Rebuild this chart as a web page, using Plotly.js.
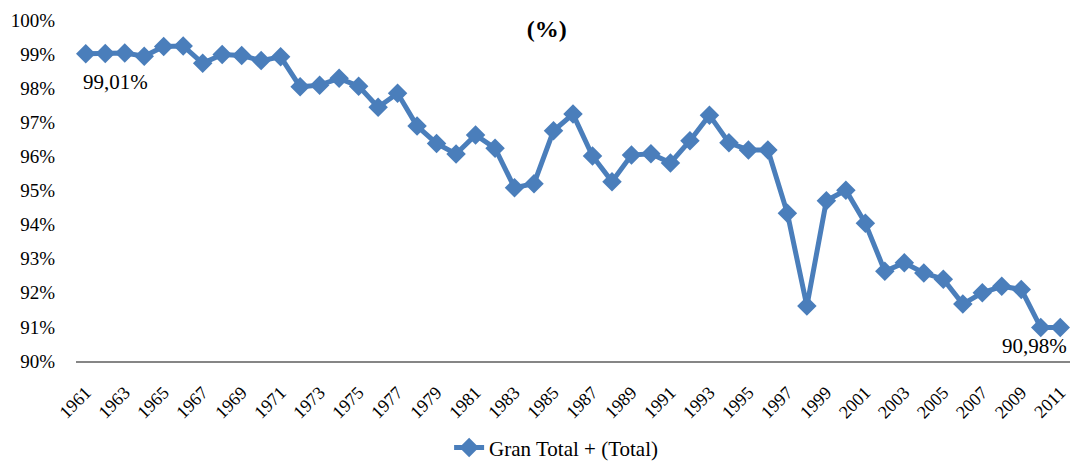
<!DOCTYPE html>
<html>
<head>
<meta charset="utf-8">
<script src="https://cdn.plot.ly/plotly-3.0.1.min.js"></script>
<style>html,body{margin:0;padding:0;background:#fff;}#chart{width:1070px;height:463px;}</style>
</head>
<body>
<div id="chart"></div>
<script>
const years = [1961,1962,1963,1964,1965,1966,1967,1968,1969,1970,
  1971,1972,1973,1974,1975,1976,1977,1978,1979,1980,
  1981,1982,1983,1984,1985,1986,1987,1988,1989,1990,
  1991,1992,1993,1994,1995,1996,1997,1998,1999,2000,
  2001,2002,2003,2004,2005,2006,2007,2008,2009,2010,2011];
const values = [99.01,99.02,99.03,98.94,99.22,99.24,98.73,98.99,98.96,98.81,
  98.92,98.04,98.09,98.29,98.06,97.44,97.85,96.89,96.38,96.07,
  96.63,96.24,95.08,95.20,96.75,97.24,96.01,95.26,96.04,96.08,
  95.81,96.46,97.21,96.40,96.19,96.19,94.33,91.61,94.70,95.01,
  94.04,92.63,92.88,92.58,92.40,91.67,92.00,92.19,92.10,90.98,90.98];
const seriesName = 'Gran Total + (Total)';
const chartTitle = '(%)';

const fmt = v => v.toFixed(2).replace('.', ',') + '%';
const font = '"Liberation Serif", "Times New Roman", Times, serif';
const blue = '#4a7ebb';

const trace = {
  x: years, y: values, type: 'scatter', mode: 'lines+markers',
  name: seriesName,
  line: {color: blue, width: 5},
  marker: {symbol: 'diamond', size: 15, color: blue},
  hoverinfo: 'x+y'
};

const first = 0, last = values.length - 1;
const layout = {
  width: 1070, height: 463,
  margin: {l: 76, r: 0, t: 20, b: 102, autoexpand: false},
  paper_bgcolor: '#fff', plot_bgcolor: '#fff',
  font: {family: font, size: 18, color: '#000'},
  title: {text: '<b>' + chartTitle + '</b>', x: 0.511, xanchor: 'center', y: 0.938, yanchor: 'middle',
    font: {family: font, size: 24, color: '#000'}},
  xaxis: {range: [1960.5, 2011.5], tick0: 1961, dtick: 2, tickangle: -45, automargin: false,
    showgrid: false, zeroline: false, showline: true, linecolor: '#868686', linewidth: 2,
    ticks: '', ticklabelstandoff: 12, tickfont: {family: font, size: 18, color: '#000'}, fixedrange: true},
  yaxis: {range: [90, 100], dtick: 1, ticksuffix: '%', showgrid: false, zeroline: false, automargin: false,
    showline: false, ticks: '', ticklabelstandoff: 20,
    tickfont: {family: font, size: 19, color: '#000'}, fixedrange: true},
  showlegend: true,
  legend: {orientation: 'h', x: 0.483, xanchor: 'center', y: -0.255, yanchor: 'middle',
    font: {family: font, size: 21, color: '#000'}},
  annotations: [
    {x: years[first], y: values[first], text: fmt(values[first]), showarrow: false,
     xanchor: 'left', yanchor: 'middle', xshift: -5, yshift: -28, font: {family: font, size: 21, color: '#000'}},
    {x: years[last], y: values[last], text: fmt(values[last]), showarrow: false,
     xanchor: 'right', yanchor: 'middle', xshift: 9, yshift: -18, font: {family: font, size: 21, color: '#000'}}
  ]
};
Plotly.newPlot('chart', [trace], layout, {displayModeBar: false, staticPlot: true});
</script>
</body>
</html>
